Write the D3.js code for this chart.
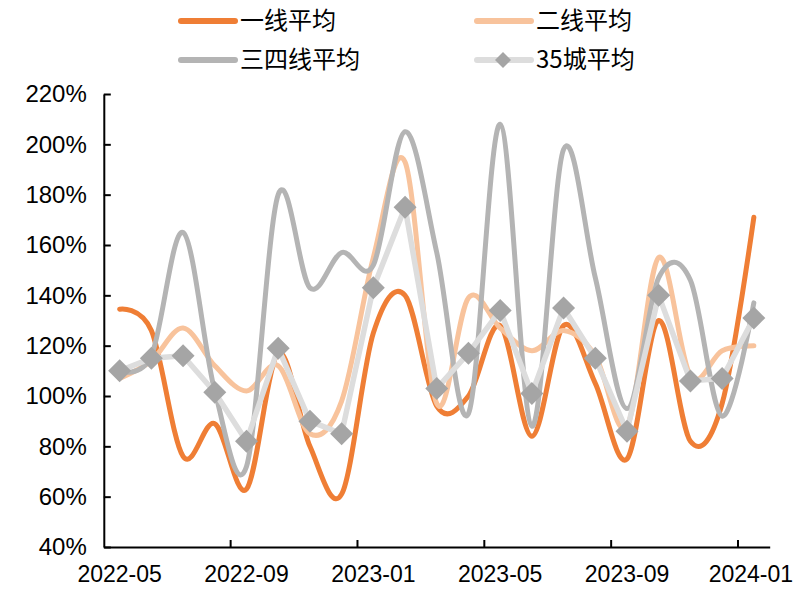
<!DOCTYPE html>
<html>
<head>
<meta charset="utf-8">
<script src="https://cdn.jsdelivr.net/npm/d3@7/dist/d3.min.js"></script>
<style>
  html, body { margin: 0; padding: 0; background: #fff; }
  svg { display: block; }
  text { font-family: Arial, "Liberation Sans", sans-serif; fill: #000; }
  .cjk { font-family: "Noto Sans CJK SC", "Noto Sans", sans-serif; }
</style>
</head>
<body>
<svg id="chart" width="793" height="589"></svg>
<script>
// Months on the category axis
const months = [
  "2022-05","2022-06","2022-07","2022-08","2022-09","2022-10","2022-11","2022-12",
  "2023-01","2023-02","2023-03","2023-04","2023-05","2023-06","2023-07","2023-08",
  "2023-09","2023-10","2023-11","2023-12","2024-01"
];
// Month labels shown under the axis
const tickLabels = ["2022-05","2022-09","2023-01","2023-05","2023-09","2024-01"];
// Percent ticks on the value axis
const yTicks = [40, 60, 80, 100, 120, 140, 160, 180, 200, 220];

// Series values (%)
const tier1 = [134.5, 126, 76, 89, 63, 117, 80, 61, 125, 140, 96, 100, 128, 84, 128, 105, 75, 130, 82, 97, 171];
const tier2 = [107, 114, 127, 112, 102, 112, 85, 98, 155, 193, 97, 139, 127, 118, 126, 116, 88, 155, 108, 118, 120];
const tier34 = [110, 116, 165, 102, 72, 180, 143, 157, 152, 205, 157, 93, 208, 88, 198, 147, 95, 147, 146, 92, 137];
const city35 = [110, 115, 116, 101.5, 82, 119, 90, 85, 143, 175, 103, 117, 134, 101, 135, 115, 86, 140, 106, 107, 131];

const seriesNames = ["一线平均", "二线平均", "三四线平均", "35城平均"];

const svg = d3.select("#chart");

const plotLeft = 103.8, plotRight = 769.7, plotTop = 94, plotBottom = 547;

const x = d3.scaleBand().domain(months).range([plotLeft, plotRight]).padding(0);
const y = d3.scaleLinear().domain([40, 220]).range([plotBottom, plotTop]);
const bw = x.bandwidth();
const cx = m => x(m) + bw / 2;

// Value axis: ticks point inward
const yAxis = d3.axisLeft(y)
  .tickValues(yTicks)
  .tickFormat(d => d + "%")
  .tickSizeInner(-7)
  .tickSizeOuter(0)
  .tickPadding(17);

const gy = svg.append("g").attr("transform", `translate(${plotLeft},0)`).call(yAxis);
gy.select(".domain").attr("stroke", "#000").attr("stroke-width", 2);
gy.selectAll(".tick line").attr("stroke", "#000").attr("stroke-width", 2);
gy.selectAll(".tick text").attr("font-size", 24).attr("font-family", "Arial, 'Liberation Sans', sans-serif").attr("fill", "#000");

// Category axis: labels at month centres, tick marks on month boundaries
const xAxis = d3.axisBottom(x)
  .tickValues(tickLabels)
  .tickSize(0)
  .tickSizeOuter(0)
  .tickPadding(19);

const gx = svg.append("g").attr("transform", `translate(0,${plotBottom})`).call(xAxis);
gx.select(".domain").attr("stroke", "#000").attr("stroke-width", 2);
gx.selectAll(".tick text").attr("font-size", 23).attr("font-family", "Arial, 'Liberation Sans', sans-serif").attr("fill", "#000");
// keep the last label inside the canvas
gx.selectAll(".tick text").filter(d => d === tickLabels[tickLabels.length - 1]).attr("dx", -3);

svg.append("g").selectAll("line")
  .data(tickLabels.slice(1))
  .join("line")
  .attr("x1", d => x(d)).attr("x2", d => x(d))
  .attr("y1", plotBottom).attr("y2", plotBottom - 7)
  .attr("stroke", "#000").attr("stroke-width", 2);

// Lines
const smooth = d3.line()
  .x((d, i) => cx(months[i]))
  .y(d => y(d))
  .curve(d3.curveCardinal.tension(0));
const straight = d3.line()
  .x((d, i) => cx(months[i]))
  .y(d => y(d));

const plot = svg.append("g");

plot.append("path").datum(tier1).attr("d", smooth)
  .attr("fill", "none").attr("stroke", "#EF7E35").attr("stroke-width", 5)
  .attr("stroke-linecap", "round").attr("stroke-linejoin", "round");
plot.append("path").datum(tier2).attr("d", smooth)
  .attr("fill", "none").attr("stroke", "#F8C39C").attr("stroke-width", 5)
  .attr("stroke-linecap", "round").attr("stroke-linejoin", "round");
plot.append("path").datum(tier34).attr("d", smooth)
  .attr("fill", "none").attr("stroke", "#B4B4B4").attr("stroke-width", 5)
  .attr("stroke-linecap", "round").attr("stroke-linejoin", "round");
plot.append("path").datum(city35).attr("d", straight)
  .attr("fill", "none").attr("stroke", "#DDDDDD").attr("stroke-width", 5.5)
  .attr("stroke-linecap", "round").attr("stroke-linejoin", "round");

const diamond = r => `M0,${-r}L${r},0L0,${r}L${-r},0Z`;

plot.append("g").selectAll("path")
  .data(city35)
  .join("path")
  .attr("d", diamond(11.5))
  .attr("transform", (d, i) => `translate(${cx(months[i])},${y(d)})`)
  .attr("fill", "#A5A5A5");

// Legend
const legendItems = [
  { name: seriesNames[0], color: "#EF7E35", lx: 181, ly: 21, marker: false },
  { name: seriesNames[1], color: "#F8C39C", lx: 477, ly: 21, marker: false },
  { name: seriesNames[2], color: "#B4B4B4", lx: 181, ly: 60, marker: false },
  { name: seriesNames[3], color: "#DDDDDD", lx: 477, ly: 60, marker: true }
];

const lg = svg.append("g").selectAll("g").data(legendItems).join("g")
  .attr("transform", d => `translate(${d.lx},${d.ly})`);

lg.append("line")
  .attr("x1", 0).attr("x2", 54).attr("y1", 0).attr("y2", 0)
  .attr("stroke", d => d.color).attr("stroke-width", 6)
  .attr("stroke-linecap", "round");

lg.filter(d => d.marker).append("path")
  .attr("d", diamond(8))
  .attr("transform", "translate(26,0)")
  .attr("fill", "#A5A5A5");

lg.append("text")
  .attr("class", "cjk")
  .attr("x", 59).attr("y", 0)
  .attr("dy", "0.35em")
  .attr("font-size", 24)
  .text(d => d.name);
</script>
</body>
</html>
